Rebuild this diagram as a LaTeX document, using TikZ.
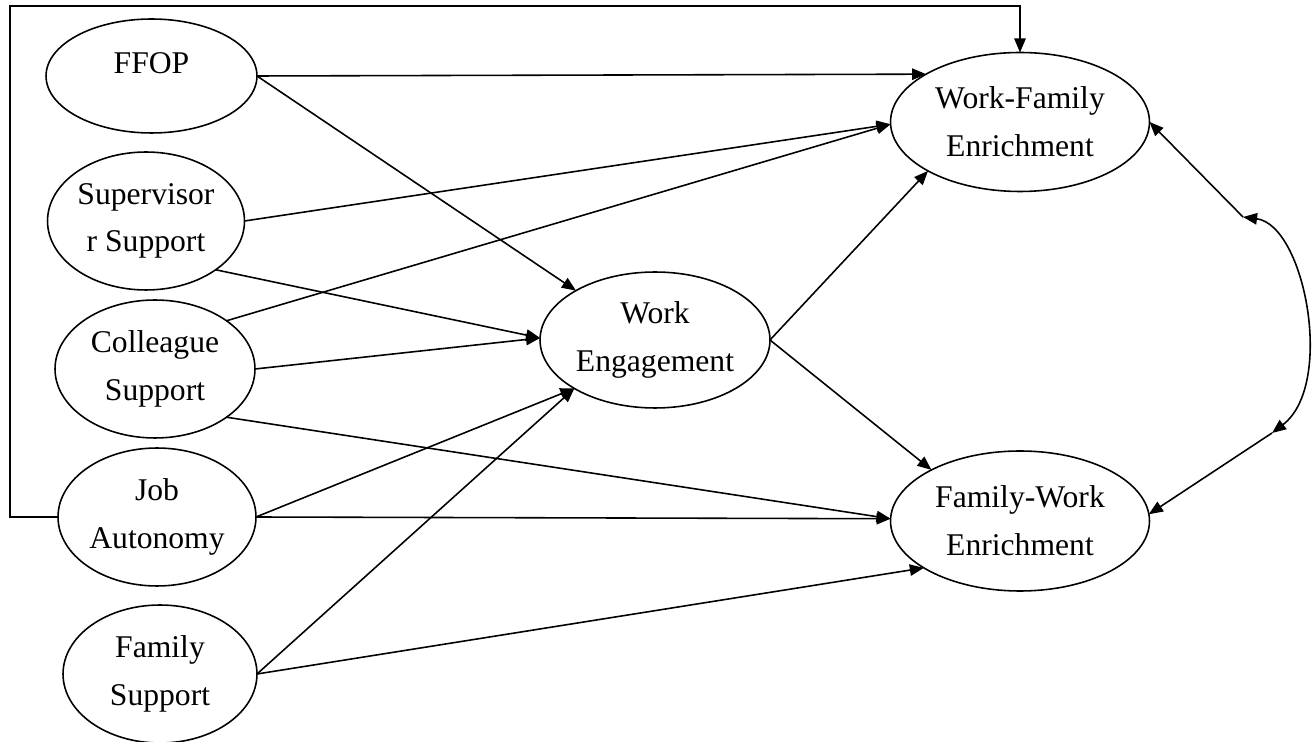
\documentclass[tikz,border=0pt]{standalone}
\usepackage{fontspec}
\setmainfont{Liberation Serif}
\usetikzlibrary{shapes.geometric,arrows.meta}
\begin{document}
\begin{tikzpicture}[x=0.02cm,y=-0.02cm,
  ell/.style={ellipse,draw,line width=0.9pt,inner sep=0pt,outer sep=0pt,align=center,
    font=\fontsize{18}{27.2}\selectfont},
  arr/.style={line width=0.9pt,-{Triangle[length=8pt,width=6.5pt]}},
  darr/.style={line width=0.9pt,{Triangle[length=8pt,width=6.5pt]}-{Triangle[length=8pt,width=6.5pt]}}]
\useasboundingbox (0,0) rectangle (1315,742);
% nodes
\node[ell,minimum width=4.22cm,minimum height=2.28cm,
  label={[font=\fontsize{18}{27.2}\selectfont,yshift=0.26cm,inner sep=0pt]center:FFOP}] (ffop) at (151.5,76) {};
\node[ell,minimum width=3.94cm,minimum height=2.76cm] (sup) at (146,221) {Supervisor\\r Support};
\node[ell,minimum width=4.0cm,minimum height=2.76cm] (col) at (155,369) {Colleague\\Support};
\node[ell,minimum width=3.96cm,minimum height=2.76cm] (job) at (157,517) {Job\\Autonomy};
\node[ell,minimum width=3.88cm,minimum height=2.76cm] (fam) at (160,674) {Family\\Support};
\node[ell,minimum width=4.6cm,minimum height=2.72cm] (we) at (655,340) {Work\\Engagement};
\node[ell,minimum width=5.18cm,minimum height=2.78cm] (wfe) at (1020,122) {Work-Family\\Enrichment};
\node[ell,minimum width=5.18cm,minimum height=2.8cm] (fwe) at (1020,521) {Family-Work\\Enrichment};
% connectors
\draw[arr] (ffop.east) -- (wfe.153.7);
\draw[arr] (ffop.east) -- (we.148.9);
\draw[arr] (sup.east) -- (wfe.181);
\draw[arr] (col.34) -- (wfe.181);
\draw[arr] (sup.-35) -- (we.179);
\draw[arr] (col.east) -- (we.179);
\draw[arr] (col.-34) -- (fwe.179);
\draw[arr] (job.east) -- (we.211);
\draw[arr] (job.east) -- (fwe.179);
\draw[arr] (fam.east) -- (we.211);
\draw[arr] (fam.east) -- (fwe.206.3);
\draw[arr] (we.east) -- (wfe.208.2);
\draw[arr] (we.east) -- (fwe.150.8);
% feedback loop
\coordinate (lp) at (10,6);
\draw[arr] (job.west) -| (lp) -| (wfe.north);
% covariance
\coordinate (c1) at (1243,217);
\coordinate (c2) at (1272,433);
\draw[arr] (c1) -- (wfe.east);
\draw[arr] (c2) -- (fwe.3);
\draw[darr] (c1) .. controls (1305,225) and (1335,385) .. (c2);
\end{tikzpicture}
\end{document}
